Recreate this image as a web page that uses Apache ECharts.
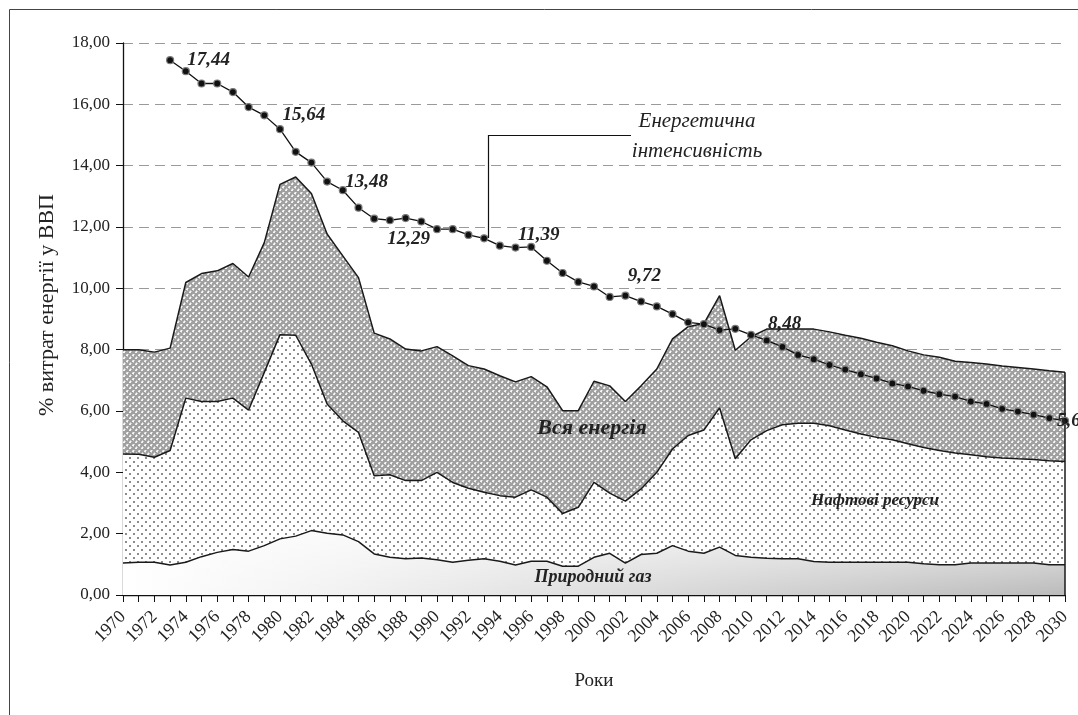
<!DOCTYPE html>
<html>
<head>
<meta charset="utf-8">
<script src="https://cdn.jsdelivr.net/npm/echarts@6/dist/echarts.min.js"></script>
<style>
  html, body { margin: 0; padding: 0; background: #fff; }
  #chart { width: 1078px; height: 715px; }
</style>
</head>
<body>
<div id="chart"></div>
<script>
const years = [];
for (let y = 1970; y <= 2030; y++) years.push(String(y));

// Вся енергія
const allEnergy = [
  8.00, 8.00, 7.92, 8.05, 10.19, 10.48, 10.57, 10.81, 10.37, 11.49,
  13.39, 13.63, 13.09, 11.77, 11.06, 10.35, 8.54, 8.35, 8.02, 7.96,
  8.10, 7.80, 7.48, 7.37, 7.15, 6.95, 7.12, 6.79, 6.01, 6.01,
  6.97, 6.82, 6.31, 6.82, 7.37, 8.35, 8.75, 8.85, 9.76, 7.98,
  8.42, 8.67, 8.67, 8.67, 8.67, 8.58, 8.47, 8.37, 8.24, 8.13,
  7.96, 7.83, 7.75, 7.62, 7.58, 7.53, 7.47, 7.42, 7.37, 7.31,
  7.26
];

// Нафтові ресурси
const oil = [
  4.60, 4.59, 4.49, 4.71, 6.42, 6.31, 6.31, 6.42, 6.03, 7.26,
  8.49, 8.47, 7.53, 6.23, 5.68, 5.30, 3.89, 3.92, 3.73, 3.73,
  4.00, 3.67, 3.48, 3.35, 3.24, 3.19, 3.43, 3.19, 2.66, 2.86,
  3.67, 3.32, 3.06, 3.46, 4.00, 4.76, 5.20, 5.38, 6.10, 4.44,
  5.06, 5.36, 5.55, 5.60, 5.60, 5.52, 5.38, 5.25, 5.14, 5.06,
  4.93, 4.81, 4.71, 4.63, 4.57, 4.51, 4.47, 4.44, 4.42, 4.38,
  4.35
];

// Природний газ
const gas = [
  1.04, 1.07, 1.07, 0.98, 1.07, 1.25, 1.39, 1.48, 1.43, 1.61,
  1.83, 1.92, 2.10, 2.01, 1.96, 1.74, 1.34, 1.23, 1.18, 1.21,
  1.15, 1.07, 1.13, 1.18, 1.10, 0.98, 1.10, 1.10, 0.94, 0.94,
  1.23, 1.36, 1.04, 1.32, 1.36, 1.61, 1.43, 1.36, 1.56, 1.29,
  1.23, 1.20, 1.18, 1.18, 1.09, 1.07, 1.07, 1.07, 1.07, 1.07,
  1.07, 1.02, 0.99, 0.99, 1.04, 1.04, 1.04, 1.04, 1.04, 0.99,
  0.99
];

// Енергетична інтенсивність
const intensity = [
  null, null, null, 17.44, 17.08, 16.68, 16.68, 16.40, 15.91, 15.64,
  15.19, 14.45, 14.10, 13.48, 13.20, 12.63, 12.27, 12.22, 12.29, 12.18,
  11.93, 11.93, 11.74, 11.63, 11.39, 11.33, 11.35, 10.90, 10.50, 10.21,
  10.06, 9.72, 9.76, 9.57, 9.41, 9.16, 8.89, 8.83, 8.64, 8.68,
  8.48, 8.30, 8.09, 7.83, 7.69, 7.50, 7.35, 7.20, 7.06, 6.90,
  6.80, 6.66, 6.55, 6.47, 6.31, 6.23, 6.07, 5.98, 5.88, 5.77,
  5.68
];

const labelYears = ["1973", "1979", "1983", "1988", "1994", "2001", "2010", "2030"];

const fmt = (v) => Number(v).toFixed(2).replace(".", ",");
const serif = "Liberation Serif";

function makeTile(size, draw) {
  const c = document.createElement("canvas");
  c.width = size; c.height = size;
  draw(c.getContext("2d"));
  return c;
}

// crosshatch for "Вся енергія"
const hatch = makeTile(6, (g) => {
  g.fillStyle = "#a0a0a0"; g.fillRect(0, 0, 6, 6);
  g.fillStyle = "#cdcdcd";
  g.fillRect(0, 0, 3, 1); g.fillRect(3, 3, 3, 1);
  g.fillRect(1, 0, 1, 3); g.fillRect(4, 2, 1, 3);
  g.fillStyle = "#f6f6f6";
  g.fillRect(1, 0, 1, 1); g.fillRect(4, 3, 1, 1);
  g.fillRect(0, 1, 2, 1); g.fillRect(3, 4, 2, 1);
});

// dots for "Нафтові ресурси"
const dots = makeTile(8, (g) => {
  g.fillStyle = "#ffffff"; g.fillRect(0, 0, 8, 8);
  g.fillStyle = "#8c8c8c";
  g.fillRect(1, 1, 2, 2); g.fillRect(5, 5, 2, 2);
});

// shaded fill for "Природний газ" (whole canvas, darker to the right and bottom)
const shade = document.createElement("canvas");
shade.width = 1078; shade.height = 715;
(function () {
  const g = shade.getContext("2d");
  const h = g.createLinearGradient(123, 0, 1065, 0);
  h.addColorStop(0, "#ffffff");
  h.addColorStop(0.25, "#f0f0f0");
  h.addColorStop(1, "#bababa");
  g.fillStyle = h; g.fillRect(0, 0, 1078, 715);
  const v = g.createLinearGradient(0, 535, 0, 596);
  v.addColorStop(0, "rgba(255,255,255,0.65)");
  v.addColorStop(1, "rgba(255,255,255,0)");
  g.fillStyle = v; g.fillRect(0, 0, 1078, 715);
})();

const labelPlace = {
  "1973": ["right", [8, 0]],
  "1979": ["right", [9, 0]],
  "1983": ["right", [9, 0]],
  "1988": ["bottom", [3, 2]],
  "1994": ["right", [9, -11]],
  "2001": ["right", [9, -21]],
  "2010": ["right", [8, -11]],
  "2030": ["right", [-17, 0]]
};

const intensityData = intensity.map((v, i) => {
  const yr = years[i];
  if (v === null) return "-";
  if (!labelYears.includes(yr)) return v;
  const [pos, off] = labelPlace[yr];
  return {
    value: v,
    label: {
      show: true, position: pos, offset: off, distance: 5,
      formatter: (p) => fmt(p.value),
      fontFamily: serif, fontStyle: "italic", fontWeight: "bold",
      fontSize: 19, color: "#222"
    }
  };
});

const edge = { color: "#1a1a1a", width: 1.5 };

const chart = echarts.init(document.getElementById("chart"), null, { renderer: "canvas" });

chart.setOption({
  animation: false,
  backgroundColor: "#fff",
  grid: { left: 123, right: 13, top: 43, bottom: 120, containLabel: false, outerBoundsMode: "none" },
  xAxis: {
    type: "category",
    data: years,
    boundaryGap: false,
    name: "Роки",
    nameLocation: "middle",
    nameGap: 77,
    nameTextStyle: { fontFamily: serif, fontSize: 19, color: "#222" },
    axisLine: { lineStyle: { color: "#111", width: 1.3 } },
    axisTick: { show: true, interval: 0, length: 7, lineStyle: { color: "#111" } },
    axisLabel: {
      interval: 1, rotate: 45, margin: 19,
      fontFamily: serif, fontSize: 18, color: "#222"
    },
    splitLine: { show: false }
  },
  yAxis: {
    type: "value",
    min: 0, max: 18, interval: 2,
    axisLine: { show: true, lineStyle: { color: "#111", width: 1.3 } },
    axisTick: { show: true, length: 7, lineStyle: { color: "#111" } },
    axisLabel: {
      margin: 13, formatter: (v) => fmt(v),
      fontFamily: serif, fontSize: 17, color: "#222"
    },
    splitLine: { show: true, lineStyle: { color: "#9a9a9a", type: [10, 6], width: 1 } }
  },
  series: [
    {
      name: "Вся енергія", type: "line", data: allEnergy,
      symbol: "none", lineStyle: edge,
      areaStyle: { color: { image: hatch, repeat: "repeat" }, opacity: 1 },
      markLine: {
        silent: true, symbol: "none", label: { show: false },
        lineStyle: { color: "#1a1a1a", width: 1.5, type: "solid" },
        data: [[{ coord: ["2030", 0] }, { coord: ["2030", allEnergy[allEnergy.length - 1]] }]]
      },
      z: 2
    },
    {
      name: "Нафтові ресурси", type: "line", data: oil,
      symbol: "none", lineStyle: edge,
      areaStyle: { color: { image: dots, repeat: "repeat" }, opacity: 1 },
      z: 3
    },
    {
      name: "Природний газ", type: "line", data: gas,
      symbol: "none", lineStyle: edge,
      areaStyle: { color: { image: shade, repeat: "no-repeat" }, opacity: 1 },
      z: 4
    },
    {
      name: "Енергетична інтенсивність", type: "line", data: intensityData,
      connectNulls: false,
      symbol: "circle", symbolSize: 7, showAllSymbol: true,
      lineStyle: { color: "#111", width: 1.3 },
      itemStyle: { color: "#111", borderColor: "#7a7a7a", borderWidth: 1.2 },
      z: 6
    }
  ],
  graphic: [
    {
      type: "rect", z: -10, silent: true,
      shape: { x: 9.5, y: 9.5, width: 1200, height: 900 },
      style: { fill: "none", stroke: "#444", lineWidth: 1 }
    },
    {
      type: "text", x: 47, y: 305, rotation: Math.PI / 2,
      style: {
        text: "% витрат енергії у ВВП", fontFamily: serif, fontSize: 22,
        fill: "#222", textAlign: "center", textVerticalAlign: "middle"
      }
    },
    {
      type: "polyline", z: 100, silent: true,
      shape: { points: [[488.5, 238], [488.5, 135.5], [631, 135.5]] },
      style: { stroke: "#111", lineWidth: 1.2, fill: "none" }
    },
    {
      type: "text", z: 100, x: 697, y: 121,
      style: {
        text: "Енергетична", fontFamily: serif, fontStyle: "italic", fontSize: 21,
        fill: "#222", textAlign: "center", textVerticalAlign: "middle"
      }
    },
    {
      type: "text", z: 100, x: 697, y: 151,
      style: {
        text: "інтенсивність", fontFamily: serif, fontStyle: "italic", fontSize: 21,
        fill: "#222", textAlign: "center", textVerticalAlign: "middle"
      }
    },
    {
      type: "text", z: 100, x: 592, y: 428,
      style: {
        text: "Вся енергія", fontFamily: serif, fontStyle: "italic", fontWeight: "bold",
        fontSize: 22, fill: "#222", textAlign: "center", textVerticalAlign: "middle"
      }
    },
    {
      type: "text", z: 100, x: 875, y: 501,
      style: {
        text: "Нафтові ресурси", fontFamily: serif, fontStyle: "italic", fontWeight: "bold",
        fontSize: 17, fill: "#222", textAlign: "center", textVerticalAlign: "middle"
      }
    },
    {
      type: "text", z: 100, x: 593, y: 577,
      style: {
        text: "Природний газ", fontFamily: serif, fontStyle: "italic", fontWeight: "bold",
        fontSize: 18, fill: "#222", textAlign: "center", textVerticalAlign: "middle"
      }
    }
  ]
});
</script>
</body>
</html>
